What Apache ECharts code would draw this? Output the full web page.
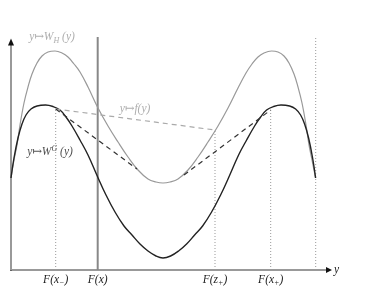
<!DOCTYPE html>
<html><head><meta charset="utf-8">
<script src="https://cdn.jsdelivr.net/npm/echarts@6/dist/echarts.min.js"></script>
<style>html,body{margin:0;padding:0;background:#fff}#c{width:382px;height:289px}</style>
</head><body><div id="c"></div>
<script>
// Gray curve y -> W_H(y)
const whX = [0,3,6,9,13,17,21,26,31,37,44,51,57,63,69,77,87,97,107,117,127,137,145,152,159,167,177,187,197,207,217,227,235,241,247,253,260.6,267,273,278,283,287,291,295,298,301,304.6];
const whY = [92,110,125,145,167,183,196,207,214,218,219,217,213,206,198,183,162,144,128,113,100,91,88,87,88,91,100,113,128,144,162,182,197,206,213,217,219,218,214,207,196,183,167,145,125,110,92];
// Black curve y -> W^G(y)
const wgX = [0,3,7,11,15,20,26,34.5,42,49,55,61,69,77,86.7,95,104,113,121,129,137,145,152,159.6,167.6,175.6,183.6,191.6,200.6,209.6,217.9,227.6,235.6,243.6,249.6,255.6,262.6,270,278.6,284.6,289.6,293.6,297.6,301.6,304.6];
const wgY = [92,112,132,146,155,161,164,165,163.5,160,153,144,130,115,93,75,58,44,35,26,19,14,12,14,19,26,35,44,58,75,93,115,130,144,153,160,163.5,165,164,161,155,146,132,112,92];
// Dashed chords
const fX = [44.7,204];   const fY = [161,140];
const chordAX = [44.7,126]; const chordAY = [161,101];
const chordBX = [173,259.7]; const chordBY = [95,160];
// Vertical markers
const dottedX = [44.7,204,259.7,304.7];
const dottedTop = [161,140,160,233];
const solidX = 86.7; const solidTop = 233;
// Tick labels
const tickPos = [44.7,86.7,204,259.7];
const tickLabels = ['{a|F(x}{s|−}{a|)}','{a|F(x)}','{a|F(z}{s|+}{a|)}','{a|F(x}{s|+}{a|)}'];
// In-plot labels
const labelPos = [[41,233],[39,118],[124,161]];
const labelText = ['{g|y↦W}{gs|H}{g| (y)}','{a|y↦W}{p|G}{a| (y)}','{g|y↦f(y)}'];

const serif = "'Liberation Serif','DejaVu Serif',serif";
const rich = {
  a:{fontFamily:serif,fontStyle:'italic',fontSize:11.5,color:'#222',lineHeight:15},
  s:{fontFamily:serif,fontStyle:'italic',fontSize:8,color:'#222',lineHeight:8,verticalAlign:'bottom'},
  p:{fontFamily:serif,fontStyle:'italic',fontSize:8,color:'#222',lineHeight:8,verticalAlign:'top'},
  g:{fontFamily:serif,fontStyle:'italic',fontSize:11.5,color:'#999',lineHeight:15},
  gs:{fontFamily:serif,fontStyle:'italic',fontSize:8,color:'#999',lineHeight:8,verticalAlign:'bottom'}
};
const zip = (xs,ys)=>xs.map((x,i)=>[x,ys[i]]);
const series = [];
dottedX.forEach((x,i)=>series.push({type:'line',data:[[x,0],[x,dottedTop[i]]],symbol:'none',clip:false,silent:true,
  lineStyle:{color:'#999',width:1,type:[1,2]}}));
series.push({type:'line',data:[[solidX,0],[solidX,solidTop]],symbol:'none',clip:false,silent:true,lineStyle:{color:'#888',width:2}});
series.push({type:'line',data:zip(whX,whY),symbol:'none',smooth:0.4,clip:false,lineStyle:{color:'#999',width:1.2}});
series.push({type:'line',data:zip(wgX,wgY),symbol:'none',smooth:0.4,clip:false,lineStyle:{color:'#222',width:1.4}});
series.push({type:'line',data:zip(fX,fY),symbol:'none',lineStyle:{color:'#aaa',width:1.2,type:[5,4]}});
series.push({type:'line',data:zip(chordAX,chordAY),symbol:'none',lineStyle:{color:'#333',width:1.2,type:[5,4]}});
series.push({type:'line',data:zip(chordBX,chordBY),symbol:'none',lineStyle:{color:'#333',width:1.2,type:[5,4]}});
series.push({type:'scatter',symbolSize:0,clip:false,silent:true,
  data:labelPos.map((p,i)=>({value:p,label:{show:true,position:'inside',formatter:labelText[i],rich:rich}}))});

const chart = echarts.init(document.getElementById('c'),null,{renderer:'canvas'});
chart.setOption({
  animation:false,
  grid:{left:11,top:42,right:53,bottom:19},
  xAxis:[{type:'value',min:0,max:318,
    axisLine:{lineStyle:{color:'#999',width:2}},
    axisTick:{show:false},splitLine:{show:false},
    axisLabel:{customValues:tickPos,margin:2,formatter:(v)=>{const i=tickPos.indexOf(v);return i<0?'':tickLabels[i];},rich:rich},
    name:'y',nameLocation:'end',nameGap:5,nameTextStyle:{fontFamily:serif,fontStyle:'italic',fontSize:11.5,color:'#222'}},
    {type:'value',min:0,max:318,position:'bottom',offset:0,
    axisLine:{symbol:['none','triangle'],symbolSize:[6,6],lineStyle:{color:'#111',width:1,type:[0,10000]}},
    axisTick:{show:false},axisLabel:{show:false},splitLine:{show:false}}],
  yAxis:[{type:'value',min:0,max:228,
    axisLine:{show:true,lineStyle:{color:'#999',width:2}},
    axisTick:{show:false},axisLabel:{show:false},splitLine:{show:false}},
    {type:'value',min:0,max:228,position:'left',offset:0,
    axisLine:{show:true,symbol:['none','triangle'],symbolSize:[6,7],lineStyle:{color:'#111',width:1,type:[0,10000]}},
    axisTick:{show:false},axisLabel:{show:false},splitLine:{show:false}}],
  series:series
});
</script></body></html>
